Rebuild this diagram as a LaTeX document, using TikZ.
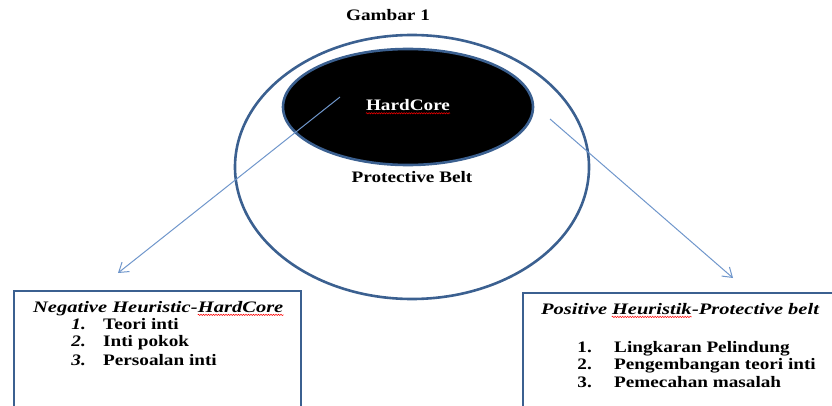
\documentclass[tikz,border=0pt]{standalone}
\usepackage{fontspec}
\setmainfont{Liberation Serif}[FakeStretch=1.2]
\newfontfamily\headfont{Liberation Serif}[FakeStretch=1.28]
\usepackage{tikz}
\usetikzlibrary{decorations.pathmorphing, arrows.meta, positioning}

\definecolor{beltblue}{HTML}{3B6090}
\definecolor{arrowblue}{HTML}{6F96CB}
\tikzset{
  ring/.style={draw=beltblue, line width=2.6pt},
  pointer/.style={draw=arrowblue, line width=1pt, ->, >={Straight Barb[length=9pt,width=12pt]}},
  listbox/.style={draw=beltblue, line width=2.4pt, fill=white},
  squiggle/.style={draw=red, line width=0.5pt, decorate, decoration={snake, amplitude=0.7pt, segment length=2.5pt}},
  lbl/.style={font=\fontsize{16}{18}\selectfont\bfseries, inner sep=0pt},
  numit/.style={lbl, font=\fontsize{16}{18}\selectfont\bfseries\itshape},
  ttl/.style={font=\fontsize{16}{18}\selectfont\headfont\bfseries\itshape, inner sep=0pt}
}

\begin{document}
\begin{tikzpicture}[x=1pt, y=1pt]
        \useasboundingbox (0,0) rectangle (832,405);
        \clip (0,0) rectangle (832,405);
        \node[lbl] (title) at (388,390) {Gambar 1};                  %

        \draw [ring]               (412,238) ellipse (177 and 132);  %belt
        \draw [ring, fill=black]   (408,298) ellipse (125 and 58);   %core
        \node[lbl, text=white] (core) at (408,300) {HardCore};       %
        \draw [squiggle] ([yshift=-2.5pt]core.south west) -- ([yshift=-2.5pt]core.south east);
        \node[lbl] (belt) at (412,228) {Protective Belt};            %

        \coordinate (negstart) at (340,308);                         %
        \coordinate (negend)   at (118,132);                         %
        \coordinate (posstart) at (550,286);                         %
        \coordinate (posend)   at (733,127);                         %
        \draw [pointer] (negstart) -- (negend);                      %
        \draw [pointer] (posstart) -- (posend);                      %

        \draw [listbox] (14,-10) rectangle (301,114);                %negative
        \node[ttl, anchor=base west] (negtitle) at (33,93) {Negative Heuristic-};
        \node[ttl, anchor=base west] (negcore) at (negtitle.base east) {HardCore};
        \draw [squiggle] ([yshift=-2.5pt]negcore.south west) -- ([yshift=-2.5pt]negcore.south east);
        \node[numit, anchor=base east] (n1) at (86,76) {1.};
        \node[lbl, anchor=base west] (t1) at (103,76) {Teori inti};
        \node[numit, anchor=base east] (n2) at (86,59) {2.};
        \node[lbl, anchor=base west] (t2) at (103,59) {Inti pokok};
        \node[numit, anchor=base east] (n3) at (86,40) {3.};
        \node[lbl, anchor=base west] (t3) at (103,40) {Persoalan inti};

        \draw [listbox] (523,-10) rectangle (845,112);               %positive
        \node[ttl, anchor=base west] (posa) at (541,91) {Positive\kern0.28em};
        \node[ttl, anchor=base west] (posb) at (posa.base east) {Heuristik};
        \node[ttl, anchor=base west] (posc) at (posb.base east) {-Protective belt};
        \draw [squiggle] ([yshift=-2.5pt]posb.south west) -- ([yshift=-2.5pt]posb.south east);
        \node[lbl, anchor=base east] (p1) at (592,53) {1.};
        \node[lbl, anchor=base west] (q1) at (614,53) {Lingkaran Pelindung};
        \node[lbl, anchor=base east] (p2) at (592,36) {2.};
        \node[lbl, anchor=base west] (q2) at (614,36) {Pengembangan teori inti};
        \node[lbl, anchor=base east] (p3) at (592,18) {3.};
        \node[lbl, anchor=base west] (q3) at (614,18) {Pemecahan masalah};
      \end{tikzpicture}
\end{document}
